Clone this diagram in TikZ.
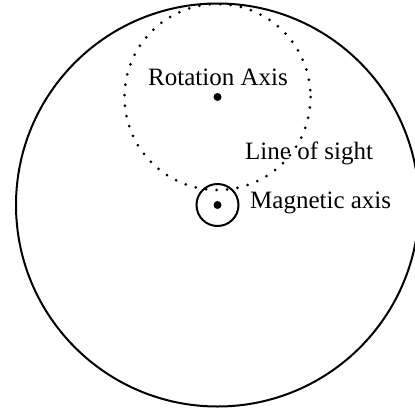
\documentclass[tikz,border=0pt]{standalone}
\usepackage{fontspec}
\setmainfont{Liberation Serif}
\begin{document}
\begin{tikzpicture}[x=1pt,y=-1pt,
  lbl/.style={font=\fontsize{25}{28}\selectfont, inner sep=0pt},
  axisdot/.style={circle, fill=black, inner sep=0pt, minimum size=8pt},
  dotline/.style={line width=3pt, line cap=round, dash pattern=on 0pt off 10.5pt}]
\useasboundingbox (0,0) rectangle (415,410);
\clip (0,0) rectangle (415,410);
\coordinate (mag) at (217.5,205);
\coordinate (rot) at (217.5,97);
\draw[line width=2pt] (mag) circle[radius=201.5];
\draw[dotline] (rot) circle[radius=93];
\draw[line width=2pt] (mag) circle[radius=21];
\node[axisdot] (rotdot) at (rot) {};
\node[axisdot] (magdot) at (mag) {};
\node[lbl] (rotlbl) at (218,77) {Rotation Axis};
\node[lbl, anchor=west] (loslbl) at (245,153) {Line of sight};
\node[lbl, anchor=west] (maglbl) at (250,203) {Magnetic axis};
\end{tikzpicture}
\end{document}
